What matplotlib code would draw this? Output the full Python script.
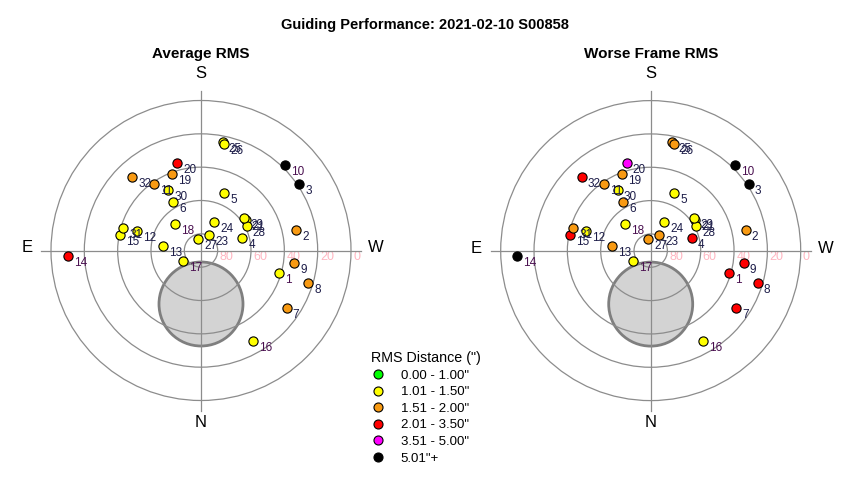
import numpy as np
import matplotlib
matplotlib.use("Agg")
import matplotlib.pyplot as plt
from matplotlib.patches import Circle
from matplotlib.lines import Line2D

plt.rcParams["font.family"] = ["Liberation Sans", "DejaVu Sans"]

# ======================================================
# DATA
# ======================================================

# field ids, azimuth (deg, N=0 through E) and altitude (deg)
field_ids = [1, 2, 3, 4, 5, 6, 7, 8, 9, 10, 11, 12, 13, 14, 15, 16,
             17, 18, 19, 20, 21, 23, 24, 25, 26, 27, 28, 29, 30, 31, 32]
azimuth = [286.2, 258.0, 235.8, 253.5, 202.2, 150.1, 304.0, 287.0, 277.8, 224.7,
           144.8, 107.1, 96.3, 87.8, 101.1, 330.0, 58.6, 136.2, 159.5, 164.8,
           236.0, 207.7, 205.0, 191.3, 192.4, 166.4, 241.8, 232.9, 151.5, 106.2,
           136.8]
altitude = [41.1, 31.6, 18.7, 64.2, 52.9, 56.6, 28.0, 22.7, 33.5, 18.1,
            41.4, 49.6, 66.9, 10.0, 40.7, 27.3, 77.6, 67.7, 40.8, 35.6,
            57.6, 79.3, 71.1, 23.8, 24.8, 83.1, 58.9, 57.4, 48.9, 41.5,
            29.8]

# RMS class of each field (index into rms_classes)
avg_class = [1, 2, 5, 1, 1, 1, 2, 2, 2, 5,
             2, 1, 1, 3, 1, 1, 1, 1, 2, 3,
             1, 1, 1, 1, 1, 1, 1, 1, 1, 1,
             2]
worst_class = [3, 2, 5, 3, 1, 2, 3, 3, 3, 5,
               2, 1, 2, 5, 3, 1, 1, 1, 2, 4,
               1, 2, 1, 2, 2, 2, 1, 1, 1, 2,
               3]

rms_classes = ['0.00 - 1.00"', '1.01 - 1.50"', '1.51 - 2.00"',
               '2.01 - 3.50"', '3.51 - 5.00"', '5.01"+']
class_colours = ["#00FF00", "#FFFF00", "#F89A12", "#FF0000", "#FF00FF", "#000000"]

ring_alts = [80, 60, 40, 20, 0]

# grey obstruction disk: azimuth, altitude, radius (deg)
disk_az, disk_alt, disk_radius = 0.0, 57.9, 25.2

purple_ids = [1, 10, 14, 16, 17, 18]

# ======================================================
# LAYOUT
# ======================================================

W, H = 850, 480
PX_PER_DEG = 150 / 90
R = 105
LINE_LEN = 96

fig = plt.figure(figsize=(W / 100, H / 100), dpi=100)


def project(az, alt):
    zd = 90 - np.asarray(alt, dtype=float)
    a = np.radians(az)
    return -zd * np.sin(a), -zd * np.cos(a)


def sky_axes(cx, cy, title, classes):
    half = R * PX_PER_DEG
    ax = fig.add_axes([(cx - half) / W, (H - cy - half) / H, 2 * half / W, 2 * half / H])
    ax.set_xlim(-R, R)
    ax.set_ylim(-R, R)
    ax.axis("off")

    dx, dy = project([disk_az], [disk_alt])
    ax.add_patch(Circle((dx[0], dy[0]), disk_radius, facecolor="#d3d3d3",
                        edgecolor="#7f7f7f", lw=2, zorder=1))

    for alt in ring_alts:
        ax.add_patch(Circle((0, 0), 90 - alt, fill=False, edgecolor="#8c8c8c",
                            lw=0.9, zorder=2))
        ax.text(90 - alt + 1.3, -4, str(alt), color="#FFB6C1", fontsize=9,
                ha="left", va="center", zorder=2)

    ax.plot([-LINE_LEN, LINE_LEN], [0, 0], color="#8c8c8c", lw=0.9, zorder=2)
    ax.plot([0, 0], [-LINE_LEN, LINE_LEN], color="#8c8c8c", lw=0.9, zorder=2)

    ax.text(0, 106.5, "S", fontsize=12, ha="center", va="center")
    ax.text(0, -103, "N", fontsize=12, ha="center", va="center")
    ax.text(-104.5, 1.5, "E", fontsize=12, ha="center", va="center")
    ax.text(105, 1.5, "W", fontsize=12, ha="center", va="center")
    ax.text(0, 118, title, fontsize=11, fontweight="bold", ha="center", va="center")

    x, y = project(azimuth, altitude)
    for i, fid in enumerate(field_ids):
        ax.scatter(x[i], y[i], s=44, color=class_colours[classes[i]],
                   edgecolor="black", linewidth=0.8, zorder=3 + i * 0.01)
        ax.annotate(str(fid), (x[i], y[i]), xytext=(4.3, -5),
                    textcoords="offset points", fontsize=8.5, ha="left", va="center",
                    color="#4a1050" if fid in purple_ids else "#1c1c48", zorder=4)
    return ax


sky_axes(201, 250.5, "Average RMS", avg_class)
sky_axes(650.7, 250.6, "Worse Frame RMS", worst_class)

fig.suptitle("Guiding Performance: 2021-02-10 S00858", y=1 - 18 / H,
             fontsize=10.5, fontweight="bold")

handles = [Line2D([], [], marker="o", linestyle="none", markersize=6.5,
                  markerfacecolor=c, markeredgecolor="black", markeredgewidth=0.8)
           for c in class_colours]
leg = fig.legend(handles, rms_classes, title='RMS Distance (")', loc="upper left",
                 bbox_to_anchor=(371 / W, 1 - 351 / H), frameon=False, fontsize=9.5,
                 title_fontsize=10.3, handlelength=1.0, handletextpad=1.25,
                 labelspacing=0.33, borderpad=0, borderaxespad=0)
leg._legend_box.align = "left"

fig.savefig("out.png", dpi=100)
